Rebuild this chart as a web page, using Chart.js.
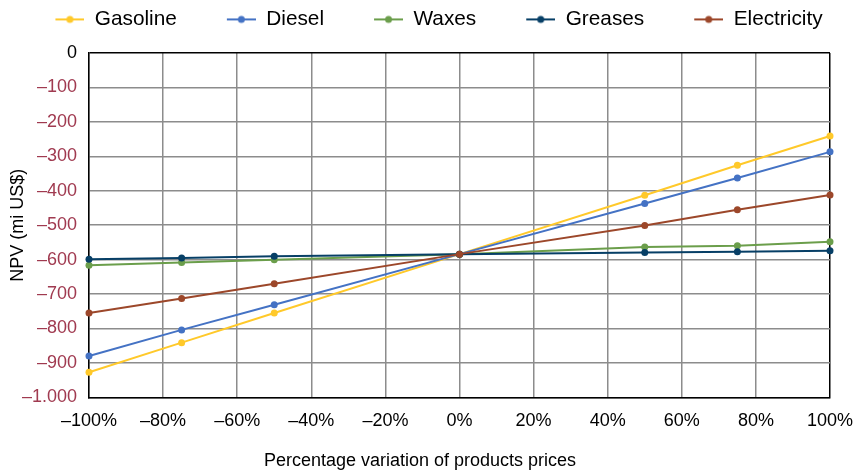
<!DOCTYPE html>
<html>
<head>
<meta charset="utf-8">
<script src="https://cdn.jsdelivr.net/npm/chart.js@4/dist/chart.umd.min.js"></script>
<style>
  body { margin: 0; background: #fff; }
  canvas { display: block; }
</style>
</head>
<body>
<canvas id="npv-chart" width="853" height="472"></canvas>
<script>
// Price variation (%) at which NPV was computed
const priceVariation = [-100, -75, -50, 0, 50, 75, 100];

// NPV (mi US$) per product
const gasoline = [-927, -841, -755, -584, -413, -326, -241];
const diesel = [-880, -804, -731, -584, -437, -363, -287];
const waxes = [-616, -608, -600, -584, -563, -560, -548];
const greases = [-599, -595, -590, -584, -579, -577, -574];
const electricity = [-755, -713, -670, -584, -501, -455, -412];

const seriesNames = ["Gasoline", "Diesel", "Waxes", "Greases", "Electricity"];
const seriesValues = [gasoline, diesel, waxes, greases, electricity];
const seriesColors = ["#ffc92a", "#4472c4", "#6b9e4b", "#073f66", "#9c472a"];

const xTitle = "Percentage variation of products prices";
const yTitle = "NPV (mi US$)";

Chart.defaults.font.family = "'Liberation Sans', Arial, sans-serif";
Chart.defaults.color = "#000";

// legend marker: short line with a dot, padded on the left for spacing
function legendMarker(color) {
  const c = document.createElement("canvas");
  c.width = 67;
  c.height = 12;
  const ctx = c.getContext("2d");
  ctx.strokeStyle = color;
  ctx.lineWidth = 2;
  ctx.beginPath();
  ctx.moveTo(38, 6);
  ctx.lineTo(67, 6);
  ctx.stroke();
  ctx.fillStyle = color;
  ctx.beginPath();
  ctx.arc(52.5, 6, 3.5, 0, Math.PI * 2);
  ctx.fill();
  return c;
}
const markers = seriesColors.map(legendMarker);

// fixed legend height so the plot starts where the reference does
const legendHeight = {
  id: "legendHeight",
  beforeInit(chart) {
    const fit = chart.legend.fit;
    chart.legend.fit = function () {
      fit.call(this);
      this.height = 56;
    };
  },
};

function minus(v) {
  return "\u2013" + v;
}

const datasets = seriesNames.map((name, i) => ({
  label: name,
  data: priceVariation.map((x, j) => ({ x: x, y: seriesValues[i][j] })),
  borderColor: seriesColors[i],
  backgroundColor: seriesColors[i],
  borderWidth: 2,
  pointRadius: 3.5,
  pointBorderWidth: 0,
  pointBackgroundColor: seriesColors[i],
  tension: 0,
  clip: false,
  order: seriesNames.length - i,
}));

new Chart(document.getElementById("npv-chart"), {
  type: "line",
  data: { datasets },
  plugins: [legendHeight],
  options: {
    responsive: false,
    animation: false,
    layout: { padding: { top: -3, right: 13, bottom: 0, left: 0 } },
    plugins: {
      tooltip: { enabled: false },
      legend: {
        position: "top",
        labels: {
          usePointStyle: true,
          pointStyleWidth: 67,
          padding: 12,
          font: { size: 20.8 },
          color: "#000",
          sort: (a, b) => a.datasetIndex - b.datasetIndex,
          generateLabels(chart) {
            const items = Chart.defaults.plugins.legend.labels.generateLabels(chart);
            items.forEach((it) => {
              it.pointStyle = markers[it.datasetIndex];
            });
            return items;
          },
        },
      },
      title: {
        display: true,
        position: "bottom",
        text: xTitle,
        color: "#000",
        font: { size: 18, weight: "normal" },
        padding: { top: 10, bottom: 0 },
      },
    },
    scales: {
      x: {
        type: "linear",
        min: -100,
        max: 100,
        afterFit(scale) {
          scale.height = 43;
          scale.paddingRight = 23;
          scale.paddingLeft = 0;
        },
        ticks: {
          stepSize: 20,
          autoSkip: false,
          maxRotation: 0,
          padding: 13,
          font: { size: 18 },
          color: "#000",
          callback: (v) => (v < 0 ? minus(Math.abs(v)) : v) + "%",
        },
        grid: {
          drawTicks: false,
          lineWidth: 1.5,
          color: (ctx) => (ctx.tick && ctx.tick.value === 100 ? "#000" : "#8c8c8c"),
        },
        border: { color: "#000", width: 1.5 },
      },
      y: {
        min: -1000,
        max: 0,
        afterFit(scale) {
          scale.width = 89;
        },
        title: {
          display: true,
          text: yTitle,
          color: "#000",
          font: { size: 18 },
          padding: { top: 7, bottom: 0 },
        },
        ticks: {
          stepSize: 100,
          padding: 12,
          font: { size: 18 },
          color: (ctx) => (ctx.tick && ctx.tick.value === 0 ? "#000" : "#a03a50"),
          callback: (v) => {
            if (v === 0) return "0";
            const a = Math.abs(v);
            return minus(a >= 1000 ? Math.floor(a / 1000) + "." + String(a % 1000).padStart(3, "0") : a);
          },
        },
        grid: {
          drawTicks: false,
          lineWidth: 1.5,
          color: (ctx) => (ctx.tick && ctx.tick.value === 0 ? "#000" : "#8c8c8c"),
        },
        border: { color: "#000", width: 1.5 },
      },
    },
  },
});
</script>
</body>
</html>
